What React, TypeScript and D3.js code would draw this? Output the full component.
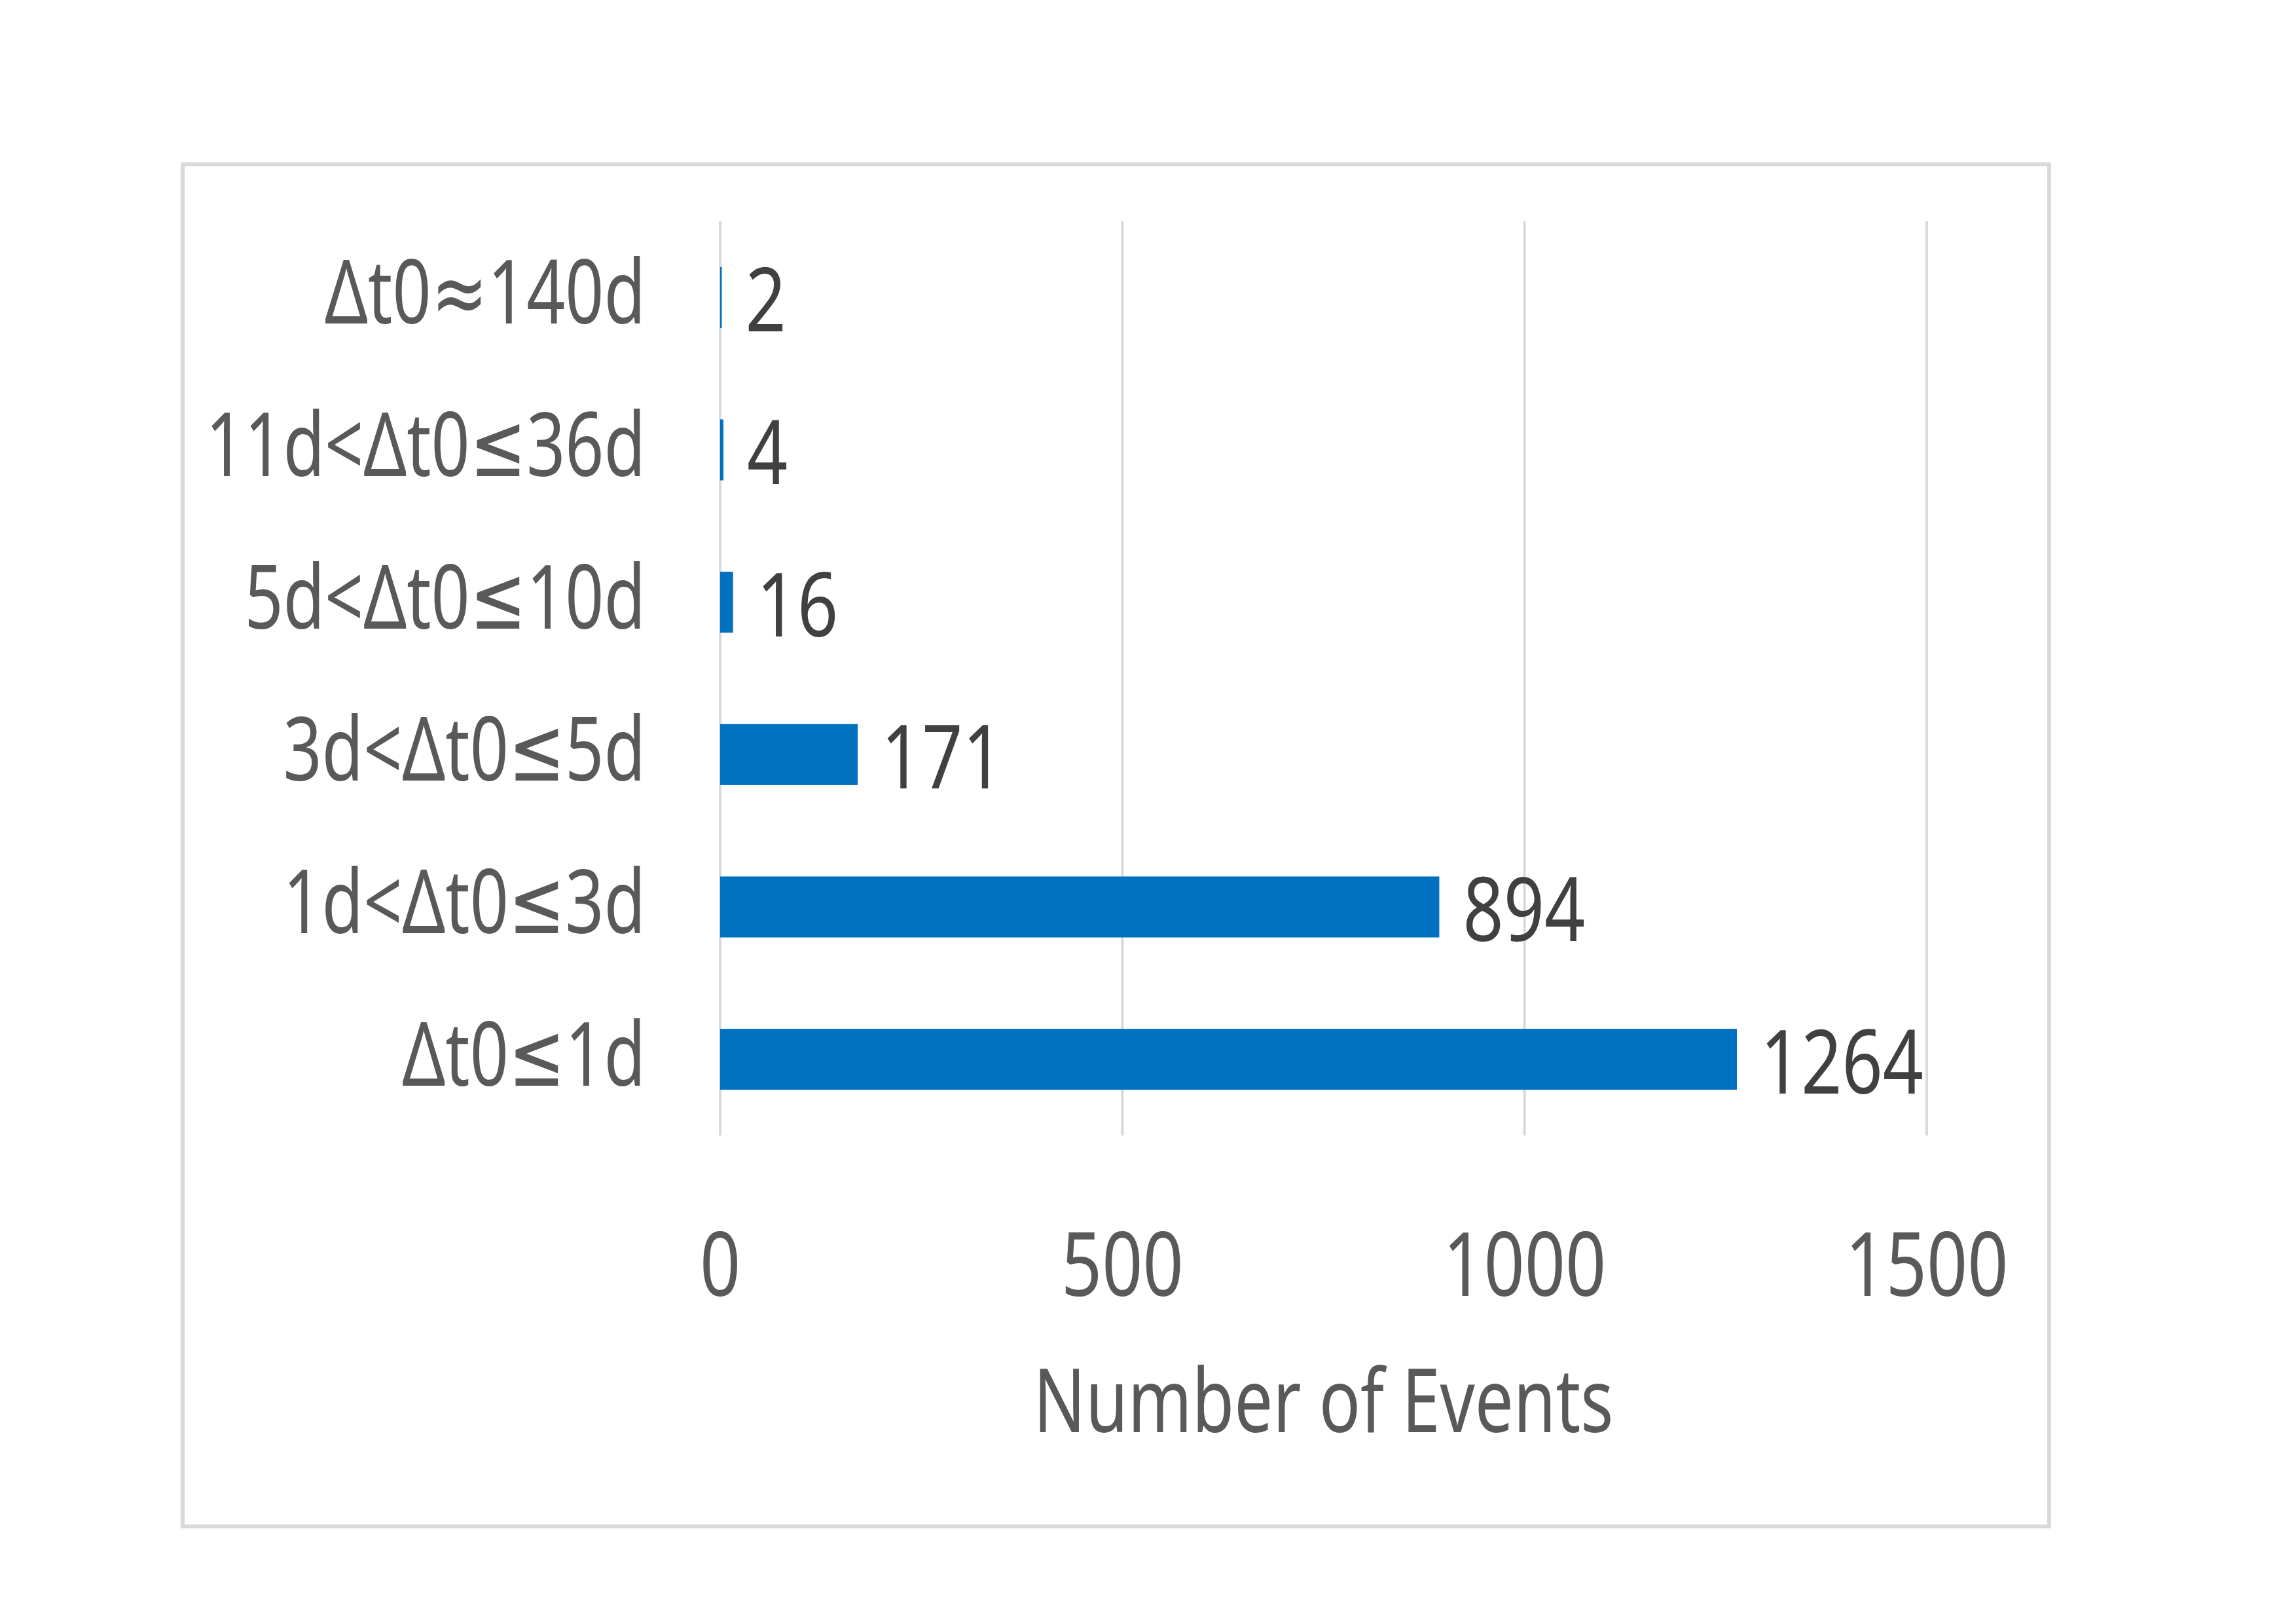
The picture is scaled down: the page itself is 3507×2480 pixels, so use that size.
import React from "react";
import * as d3 from "d3";

const categories = [
  "Δt0≈140d",
  "11d<Δt0≤36d",
  "5d<Δt0≤10d",
  "3d<Δt0≤5d",
  "1d<Δt0≤3d",
  "Δt0≤1d",
];
const counts = [2, 4, 16, 171, 894, 1264];
const xTicks = [0, 500, 1000, 1500];
const axisTitle = "Number of Events";

const W = 3507;
const H = 2480;
const FONT = "'Noto Sans', 'DejaVu Sans', sans-serif";

export default function App() {
  const x = d3.scaleLinear().domain([0, 1500]).range([1100, 2943]);
  const y = d3
    .scaleBand<string>()
    .domain(categories)
    .range([338, 1734])
    .paddingInner(0.6)
    .paddingOuter(0.3);

  // glyphs are squeezed horizontally to look like the narrow Calibri of the original
  const label = (
    tx: number,
    ty: number,
    text: string,
    anchor: "start" | "middle" | "end",
    fill: string,
    sx: number,
    key?: string
  ) => (
    <text
      key={key}
      transform={`translate(${tx},${ty}) scale(${sx},1)`}
      textAnchor={anchor}
      fontFamily={FONT}
      fontSize={136}
      fill={fill}
    >
      {text}
    </text>
  );

  return (
    <svg
      width={W}
      height={H}
      style={{ position: "absolute", left: 0, top: 0, background: "#fff" }}
    >
      <rect x={0} y={0} width={W} height={H} fill="#fff" />
      <rect
        x={279}
        y={251}
        width={3130 - 279}
        height={2331 - 251}
        fill="none"
        stroke="#d9d9d9"
        strokeWidth={6}
      />

      {/* gridlines */}
      {xTicks.map((t) => (
        <line
          key={t}
          x1={x(t)}
          x2={x(t)}
          y1={338}
          y2={1734}
          stroke="#d9d9d9"
          strokeWidth={4}
        />
      ))}

      {/* bars */}
      {categories.map((c, i) => (
        <rect
          key={c}
          x={x(0)}
          y={y(c)}
          width={x(counts[i]) - x(0)}
          height={y.bandwidth()}
          fill="#0070c0"
        />
      ))}

      {/* category labels */}
      {categories.map((c) =>
        label(986, (y(c) ?? 0) + y.bandwidth() / 2 + 40, c, "end", "#595959", 0.76, "c" + c)
      )}

      {/* value labels */}
      {categories.map((c, i) =>
        label(
          x(counts[i]) + 36,
          (y(c) ?? 0) + y.bandwidth() / 2 + 52,
          String(counts[i]),
          "start",
          "#404040",
          0.8,
          "v" + c
        )
      )}

      {/* tick labels */}
      {xTicks.map((t) => label(x(t), 1979, String(t), "middle", "#595959", 0.8, "t" + t))}

      {label((x(0) + x(1500)) / 2, 2187, axisTitle, "middle", "#595959", 0.77, "title")}
    </svg>
  );
}
